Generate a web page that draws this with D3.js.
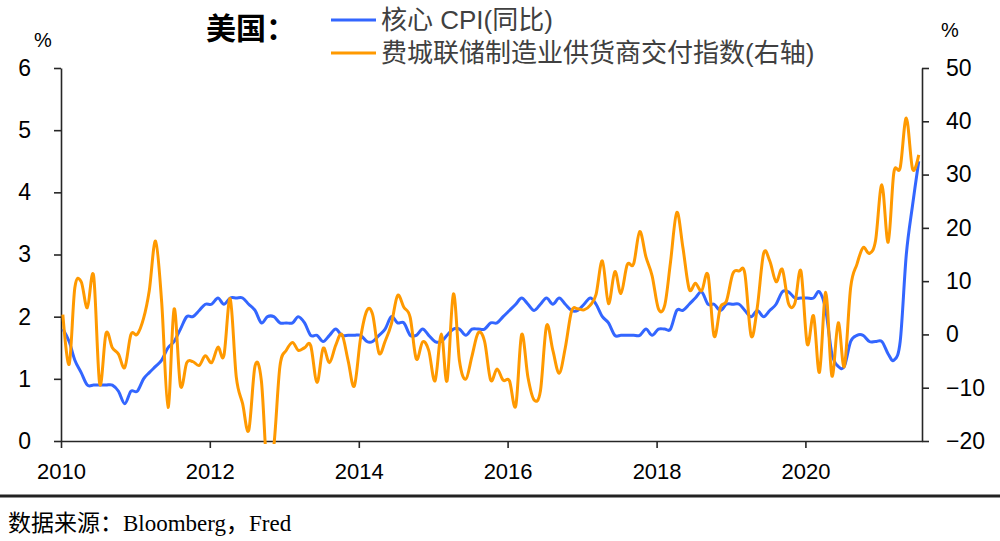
<!DOCTYPE html>
<html>
<head>
<meta charset="utf-8">
<script src="https://cdn.jsdelivr.net/npm/d3@7/dist/d3.min.js"></script>
<style>
  html, body { margin: 0; padding: 0; background: #fff; }
  svg { display: block; }
</style>
</head>
<body>
<svg id="chart" width="1000" height="541"></svg>
<script>
// ---------------- data ----------------
const titleText = "美国：";
const seriesNames = ["核心 CPI(同比)", "费城联储制造业供货商交付指数(右轴)"];
const sourceText = "数据来源：Bloomberg，Fred";

// monthly observations, Dec 2009 .. Jun 2021
const startMonth = [2009, 11];
const endMonth = [2021, 6];   // exclusive

// US core CPI YoY (%), left axis
const coreCPI = [
  1.8,
  1.6,1.3,1.1,0.9,0.9,0.9,0.9,0.9,0.8,0.6,0.8,0.8,
  1.0,1.1,1.2,1.3,1.5,1.6,1.8,2.0,2.0,2.1,2.2,2.2,
  2.3,2.2,2.3,2.3,2.3,2.2,2.1,1.9,2.0,2.0,1.9,1.9,
  1.9,2.0,1.9,1.7,1.7,1.6,1.7,1.8,1.7,1.7,1.7,1.7,
  1.6,1.6,1.7,1.8,2.0,1.9,1.9,1.7,1.7,1.8,1.7,1.6,
  1.6,1.7,1.8,1.8,1.7,1.8,1.8,1.8,1.9,1.9,2.0,2.1,
  2.2,2.3,2.2,2.1,2.2,2.3,2.2,2.3,2.2,2.1,2.1,2.2,
  2.3,2.2,2.0,1.9,1.7,1.7,1.7,1.7,1.7,1.8,1.7,1.8,
  1.8,1.8,2.1,2.1,2.2,2.3,2.4,2.2,2.2,2.1,2.2,2.2,
  2.2,2.1,2.0,2.1,2.0,2.1,2.2,2.4,2.4,2.3,2.3,2.3,
  2.3,2.4,2.1,1.4,1.2,1.2,1.6,1.7,1.7,1.6,1.6,1.6,
  1.4,1.3,1.6,3.0,3.8,4.5
];

// Philadelphia Fed manufacturing delivery times index, right axis
const phillyDelivery = [
  3.7,
  -5.6,8.8,9.9,5.0,11.0,-9.3,0.2,-2.5,-3.7,-6.2,0.0,0.0,
  3.0,8.2,17.5,6.0,-13.7,4.8,-9.6,-5.3,-5.1,-5.8,-4.0,-5.3,
  -2.4,-4.0,6.7,-8.0,-13.0,-18.0,-5.9,-8.7,-26.0,-21.0,-6.0,-3.0,
  -1.5,-3.0,-2.5,-2.1,-9.0,-2.6,-5.3,-2.0,0.0,-5.0,-9.7,-0.6,
  4.5,3.7,-3.5,-1.3,2.0,7.3,5.1,3.2,-4.6,-1.4,-3.0,-8.7,
  0.1,-8.7,7.6,-5.0,-8.4,-4.1,0.3,-1.3,-8.6,-6.5,-8.6,-8.7,
  -13.4,0.0,-8.1,-12.3,-10.6,1.6,-3.0,-7.3,-2.5,4.4,4.8,4.6,
  5.5,7.5,13.8,5.8,11.8,7.7,13.1,13.2,19.3,14.5,11.0,4.8,
  5.5,13.5,22.9,16.3,8.5,9.6,8.2,11.2,-0.3,5.1,6.3,11.4,
  11.9,11.4,-0.3,5.1,15.2,13.8,9.9,12.2,5.8,5.8,11.9,-1.8,
  3.5,-7.1,7.9,-7.8,2.2,-6.0,8.8,13.2,16.3,15.2,17.6,28.1,
  17.3,30.4,31.3,40.6,31.0,33.7
];

const leftTicks = [0,1,2,3,4,5,6];
const rightTicks = [-20,-10,0,10,20,30,40,50];
const yearTicks = [2010,2012,2014,2016,2018,2020];

// ---------------- chart ----------------
const svg = d3.select("#chart");
svg.append("rect").attr("width",1000).attr("height",541).attr("fill","#fff");

const plot = {left: 61, right: 922, top: 68, bottom: 441};
const blue = "#3366ff", orange = "#ff9900", axisColor = "#262626";
const cjkSans = "'Liberation Sans', Arial, 'Noto Sans CJK SC', sans-serif";

const months = d3.timeMonth.range(new Date(startMonth[0], startMonth[1], 1), new Date(endMonth[0], endMonth[1], 1));
// observations are stamped after the close of each month
const stamp = m => new Date(m.getFullYear(), m.getMonth() + 1, 10);

const x = d3.scaleTime()
  .domain([new Date(2010,0,1), new Date(2021,6,26)])
  .range([plot.left, plot.right]);
const yL = d3.scaleLinear().domain([0,6]).range([plot.bottom, plot.top]);
const yR = d3.scaleLinear().domain([-20,50]).range([plot.bottom, plot.top]);

// clip
svg.append("defs").append("clipPath").attr("id","clip")
  .append("rect").attr("x", plot.left).attr("y", 0)
  .attr("width", plot.right - plot.left).attr("height", plot.bottom + 3);

// axes
const gL = svg.append("g").attr("transform", `translate(${plot.left},0)`)
  .call(d3.axisLeft(yL).tickValues(leftTicks).tickFormat(d3.format("d")).tickSize(7).tickSizeOuter(0).tickPadding(23));
const gR = svg.append("g").attr("transform", `translate(${plot.right},0)`)
  .call(d3.axisRight(yR).tickValues(rightTicks).tickFormat(d3.format("d")).tickSize(7).tickSizeOuter(0).tickPadding(17));
const gB = svg.append("g").attr("transform", `translate(0,${plot.bottom})`)
  .call(d3.axisBottom(x).tickValues(yearTicks.map(y => new Date(y,0,1))).tickFormat(d3.timeFormat("%Y")).tickSize(7).tickSizeOuter(0).tickPadding(15));

[gL, gR, gB].forEach(g => {
  g.select(".domain").attr("stroke", axisColor).attr("stroke-width", 1.6);
  g.selectAll(".tick line").attr("stroke", axisColor).attr("stroke-width", 1.6);
  g.selectAll(".tick text").attr("fill", "#000").style("font-family", cjkSans).style("font-size", "23px");
});
gB.selectAll(".tick text").style("font-size", "22px");

// lines
const lineL = d3.line().x((d,i) => x(stamp(months[i]))).y(d => yL(d)).curve(d3.curveCardinal.tension(0));
const lineR = d3.line().x((d,i) => x(stamp(months[i]))).y(d => yR(d)).curve(d3.curveCardinal.tension(0));

const lines = svg.append("g").attr("clip-path","url(#clip)");
lines.append("path").datum(coreCPI).attr("d", lineL)
  .attr("fill","none").attr("stroke", blue).attr("stroke-width", 3).attr("stroke-linejoin","round");
lines.append("path").datum(phillyDelivery).attr("d", lineR)
  .attr("fill","none").attr("stroke", orange).attr("stroke-width", 3).attr("stroke-linejoin","round");

// unit labels
svg.append("text").attr("x", 43).attr("y", 40).attr("dy","0.35em").attr("text-anchor","middle")
  .style("font-family", cjkSans).style("font-size","20px").text("%");
svg.append("text").attr("x", 950).attr("y", 30).attr("dy","0.35em").attr("text-anchor","middle")
  .style("font-family", cjkSans).style("font-size","20px").text("%");

// title
svg.append("text").attr("x", 206).attr("y", 28).attr("dy","0.36em")
  .style("font-family","'Noto Sans CJK SC', sans-serif").style("font-size","30px").style("font-weight","bold")
  .attr("fill","#000").text(titleText);

// legend
const legendY = [20, 53];
const legendColors = [blue, orange];
seriesNames.forEach((name, i) => {
  svg.append("line").attr("x1", 331).attr("x2", 376).attr("y1", legendY[i]).attr("y2", legendY[i])
    .attr("stroke", legendColors[i]).attr("stroke-width", 3);
  svg.append("text").attr("x", 381).attr("y", legendY[i]).attr("dy","0.36em")
    .style("font-family", cjkSans).style("font-size","26px").attr("fill","#404040").text(name);
});

// separator and source
svg.append("line").attr("x1",0).attr("x2",1000).attr("y1",496).attr("y2",496)
  .attr("stroke","#222").attr("stroke-width",3);
svg.append("text").attr("x", 8).attr("y", 531)
  .style("font-family","'Liberation Serif', 'Times New Roman', 'Noto Sans CJK SC', serif").style("font-size","23px")
  .attr("fill","#000").text(sourceText);
</script>
</body>
</html>
